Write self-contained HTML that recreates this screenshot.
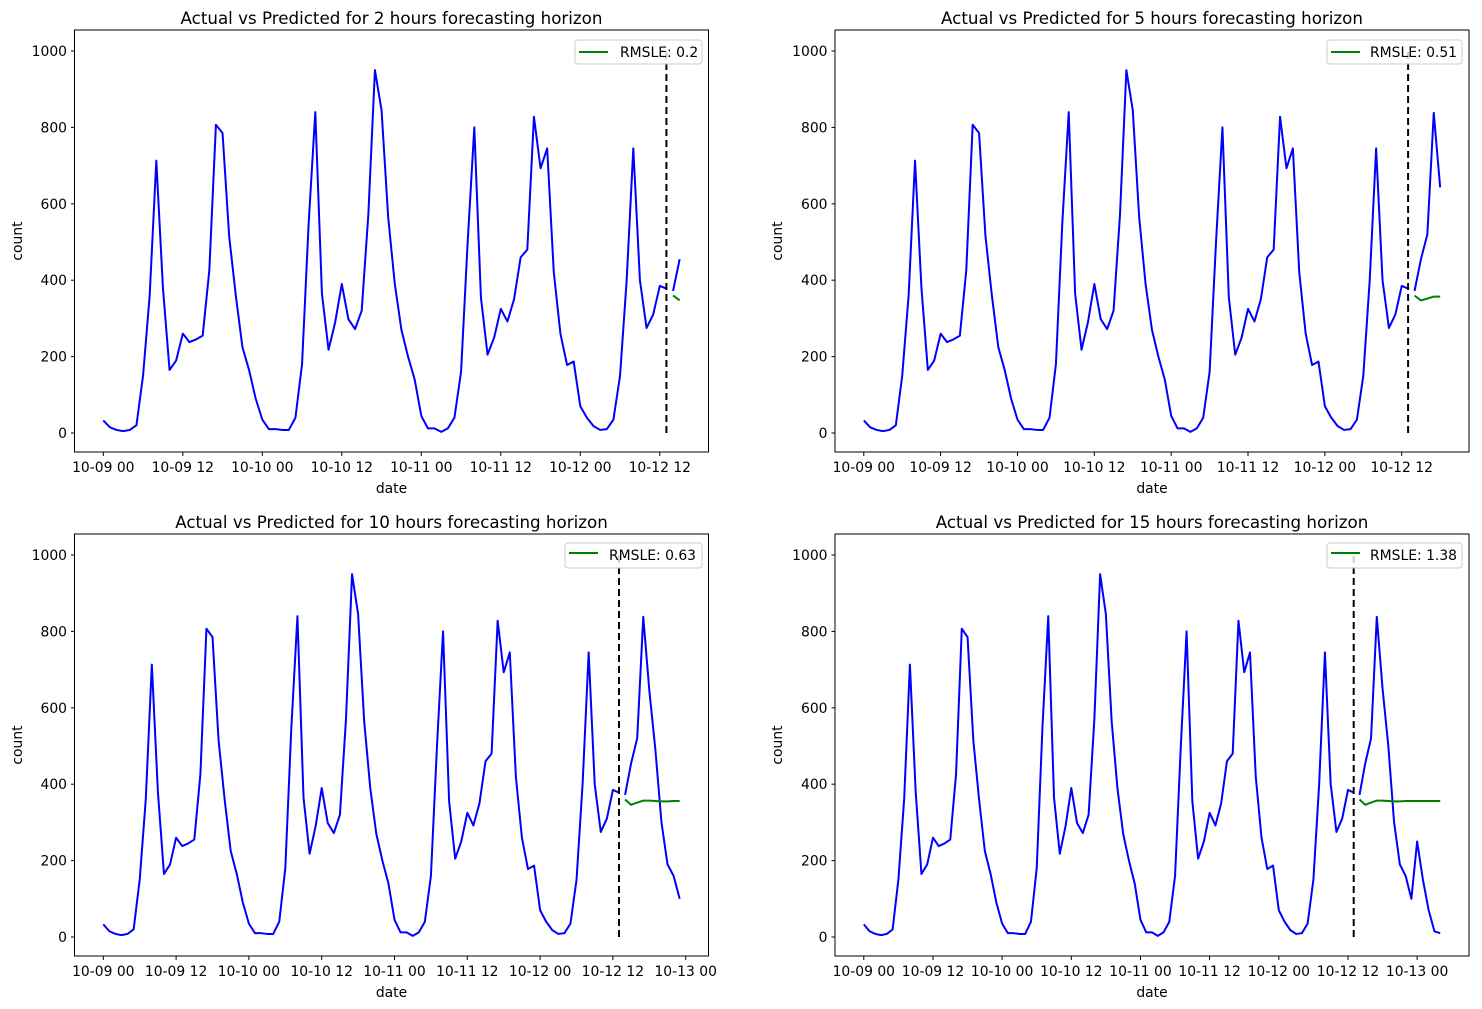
<!DOCTYPE html>
<html><head><meta charset="utf-8"><style>
html,body{margin:0;padding:0;background:#fff;}
svg{display:block;font-family:"DejaVu Sans","Liberation Sans",sans-serif;}
.t{font-size:16.7px;text-anchor:middle;fill:#000}
.tk{font-size:13.9px;fill:#000}
.yl{text-anchor:end}
.xl{text-anchor:middle}
.ln{fill:none;stroke-width:2;vector-effect:non-scaling-stroke;stroke-linejoin:round}
</style></head><body>
<svg width="1482" height="1009" viewBox="0 0 1482 1009" xmlns="http://www.w3.org/2000/svg">
<defs>
<polyline id="tr" class="ln" stroke="#0000ff" points="0,33 1,15 2,8 3,5 4,8 5,20 6,150 7,360 8,713 9,380 10,165 11,190 12,260 13,238 14,245 15,255 16,425 17,807 18,785 19,515 20,360 21,225 22,165 23,90 24,35 25,10 26,10 27,8 28,8 29,40 30,180 31,550 32,840 33,365 34,218 35,290 36,390 37,298 38,272 39,320 40,570 41,950 42,845 43,565 44,390 45,270 46,200 47,140 48,45 49,12 50,12 51,3 52,12 53,40 54,160 55,500 56,800 57,355 58,205 59,250 60,325 61,292 62,350 63,460 64,480 65,828 66,693 67,745 68,420 69,260 70,178 71,187 72,70 73,40 74,18 75,8 76,10 77,35 78,150 79,400 80,745 81,400 82,275 83,310 84,385 85,378"/>
</defs>

<!-- Panel TL -->
<rect x="74.5" y="30" width="634" height="422" fill="none" stroke="#000" stroke-width="1"/>
<text class="t" x="391.5" y="24">Actual vs Predicted for 2 hours forecasting horizon</text>
<g transform="matrix(6.625,0,0,-0.382,103.3,433)">
<use href="#tr"/>
<polyline class="ln" stroke="#0000ff" points="86,372 87,455"/>
<polyline class="ln" stroke="#008000" points="86,360 87,347"/>
</g>
<line x1="666.4" y1="433" x2="666.4" y2="51" stroke="#000" stroke-width="2" stroke-dasharray="7,4"/>
<g stroke="#000">
<line x1="71" x2="74.5" y1="433" y2="433"/><line x1="71" x2="74.5" y1="356.6" y2="356.6"/><line x1="71" x2="74.5" y1="280.2" y2="280.2"/><line x1="71" x2="74.5" y1="203.8" y2="203.8"/><line x1="71" x2="74.5" y1="127.4" y2="127.4"/><line x1="71" x2="74.5" y1="51" y2="51"/>
</g>
<g class="tk yl"><text x="67" y="438">0</text><text x="67" y="361.6">200</text><text x="67" y="285.2">400</text><text x="67" y="208.8">600</text><text x="67" y="132.4">800</text><text x="67" y="56">1000</text></g>
<g stroke="#000"><line x1="103.3" x2="103.3" y1="452" y2="456"/><line x1="182.8" x2="182.8" y1="452" y2="456"/><line x1="262.3" x2="262.3" y1="452" y2="456"/><line x1="341.8" x2="341.8" y1="452" y2="456"/><line x1="421.3" x2="421.3" y1="452" y2="456"/><line x1="500.8" x2="500.8" y1="452" y2="456"/><line x1="580.3" x2="580.3" y1="452" y2="456"/><line x1="659.8" x2="659.8" y1="452" y2="456"/></g>
<g class="tk xl"><text x="103.3" y="472">10-09 00</text><text x="182.8" y="472">10-09 12</text><text x="262.3" y="472">10-10 00</text><text x="341.8" y="472">10-10 12</text><text x="421.3" y="472">10-11 00</text><text x="500.8" y="472">10-11 12</text><text x="580.3" y="472">10-12 00</text><text x="659.8" y="472">10-12 12</text></g>
<text class="tk xl" x="391.5" y="493">date</text>
<text class="tk xl" transform="translate(22,241) rotate(-90)">count</text>
<rect x="575" y="40" width="127" height="24" rx="3" fill="#fff" fill-opacity="0.8" stroke="#ccc"/>
<line x1="579" x2="608" y1="52" y2="52" stroke="#008000" stroke-width="2"/>
<text class="tk" x="620" y="57">RMSLE: 0.2</text>

<!-- Panel TR -->
<rect x="835" y="30" width="634" height="422" fill="none" stroke="#000" stroke-width="1"/>
<text class="t" x="1152" y="24">Actual vs Predicted for 5 hours forecasting horizon</text>
<g transform="matrix(6.404,0,0,-0.382,863.8,433)">
<use href="#tr"/>
<polyline class="ln" stroke="#0000ff" points="86,372 87,455 88,520 89,838 90,643"/>
<polyline class="ln" stroke="#008000" points="86,360 87,347 88,352 89,357 90,357"/>
</g>
<line x1="1408.1" y1="433" x2="1408.1" y2="51" stroke="#000" stroke-width="2" stroke-dasharray="7,4"/>
<g stroke="#000">
<line x1="831.5" x2="835" y1="433" y2="433"/><line x1="831.5" x2="835" y1="356.6" y2="356.6"/><line x1="831.5" x2="835" y1="280.2" y2="280.2"/><line x1="831.5" x2="835" y1="203.8" y2="203.8"/><line x1="831.5" x2="835" y1="127.4" y2="127.4"/><line x1="831.5" x2="835" y1="51" y2="51"/>
</g>
<g class="tk yl"><text x="827.5" y="438">0</text><text x="827.5" y="361.6">200</text><text x="827.5" y="285.2">400</text><text x="827.5" y="208.8">600</text><text x="827.5" y="132.4">800</text><text x="827.5" y="56">1000</text></g>
<g stroke="#000"><line x1="863.8" x2="863.8" y1="452" y2="456"/><line x1="940.6" x2="940.6" y1="452" y2="456"/><line x1="1017.5" x2="1017.5" y1="452" y2="456"/><line x1="1094.3" x2="1094.3" y1="452" y2="456"/><line x1="1171.2" x2="1171.2" y1="452" y2="456"/><line x1="1248" x2="1248" y1="452" y2="456"/><line x1="1324.9" x2="1324.9" y1="452" y2="456"/><line x1="1401.7" x2="1401.7" y1="452" y2="456"/></g>
<g class="tk xl"><text x="863.8" y="472">10-09 00</text><text x="940.6" y="472">10-09 12</text><text x="1017.5" y="472">10-10 00</text><text x="1094.3" y="472">10-10 12</text><text x="1171.2" y="472">10-11 00</text><text x="1248" y="472">10-11 12</text><text x="1324.9" y="472">10-12 00</text><text x="1401.7" y="472">10-12 12</text></g>
<text class="tk xl" x="1152" y="493">date</text>
<text class="tk xl" transform="translate(782,241) rotate(-90)">count</text>
<rect x="1327" y="40" width="135" height="24" rx="3" fill="#fff" fill-opacity="0.8" stroke="#ccc"/>
<line x1="1331" x2="1360" y1="52" y2="52" stroke="#008000" stroke-width="2"/>
<text class="tk" x="1370" y="57">RMSLE: 0.51</text>

<!-- Panel BL -->
<rect x="74.5" y="534" width="634" height="422" fill="none" stroke="#000" stroke-width="1"/>
<text class="t" x="391.5" y="528">Actual vs Predicted for 10 hours forecasting horizon</text>
<g transform="matrix(6.067,0,0,-0.382,103.3,937)">
<use href="#tr"/>
<polyline class="ln" stroke="#0000ff" points="86,372 87,455 88,520 89,838 90,645 91,490 92,300 93,190 94,160 95,100"/>
<polyline class="ln" stroke="#008000" points="86,360 87,346 88,352 89,357 90,357 91,356 92,355 93,355 94,356 95,356"/>
</g>
<line x1="619" y1="937" x2="619" y2="555" stroke="#000" stroke-width="2" stroke-dasharray="7,4"/>
<g stroke="#000">
<line x1="71" x2="74.5" y1="937" y2="937"/><line x1="71" x2="74.5" y1="860.6" y2="860.6"/><line x1="71" x2="74.5" y1="784.2" y2="784.2"/><line x1="71" x2="74.5" y1="707.8" y2="707.8"/><line x1="71" x2="74.5" y1="631.4" y2="631.4"/><line x1="71" x2="74.5" y1="555" y2="555"/>
</g>
<g class="tk yl"><text x="67" y="942">0</text><text x="67" y="865.6">200</text><text x="67" y="789.2">400</text><text x="67" y="712.8">600</text><text x="67" y="636.4">800</text><text x="67" y="560">1000</text></g>
<g stroke="#000"><line x1="103.3" x2="103.3" y1="956" y2="960"/><line x1="176.1" x2="176.1" y1="956" y2="960"/><line x1="248.9" x2="248.9" y1="956" y2="960"/><line x1="321.7" x2="321.7" y1="956" y2="960"/><line x1="394.5" x2="394.5" y1="956" y2="960"/><line x1="467.3" x2="467.3" y1="956" y2="960"/><line x1="540.1" x2="540.1" y1="956" y2="960"/><line x1="612.9" x2="612.9" y1="956" y2="960"/><line x1="685.7" x2="685.7" y1="956" y2="960"/></g>
<g class="tk xl"><text x="103.3" y="976">10-09 00</text><text x="176.1" y="976">10-09 12</text><text x="248.9" y="976">10-10 00</text><text x="321.7" y="976">10-10 12</text><text x="394.5" y="976">10-11 00</text><text x="467.3" y="976">10-11 12</text><text x="540.1" y="976">10-12 00</text><text x="612.9" y="976">10-12 12</text><text x="685.7" y="976">10-13 00</text></g>
<text class="tk xl" x="391.5" y="997">date</text>
<text class="tk xl" transform="translate(22,745) rotate(-90)">count</text>
<rect x="565" y="543" width="137" height="25" rx="3" fill="#fff" fill-opacity="0.8" stroke="#ccc"/>
<line x1="569" x2="598" y1="553" y2="553" stroke="#008000" stroke-width="2"/>
<text class="tk" x="609" y="560">RMSLE: 0.63</text>

<!-- Panel BR -->
<rect x="835" y="534" width="634" height="422" fill="none" stroke="#000" stroke-width="1"/>
<text class="t" x="1152" y="528">Actual vs Predicted for 15 hours forecasting horizon</text>
<g transform="matrix(5.764,0,0,-0.382,863.8,937)">
<use href="#tr"/>
<polyline class="ln" stroke="#0000ff" points="86,372 87,455 88,520 89,838 90,650 91,500 92,300 93,190 94,160 95,100 96,250 97,150 98,70 99,15 100,10"/>
<polyline class="ln" stroke="#008000" points="86,360 87,346 88,352 89,357 90,357 91,356 92,355 93,355 94,356 95,356 96,356 97,356 98,356 99,356 100,356"/>
</g>
<line x1="1353.7" y1="937" x2="1353.7" y2="555" stroke="#000" stroke-width="2" stroke-dasharray="7,4"/>
<g stroke="#000">
<line x1="831.5" x2="835" y1="937" y2="937"/><line x1="831.5" x2="835" y1="860.6" y2="860.6"/><line x1="831.5" x2="835" y1="784.2" y2="784.2"/><line x1="831.5" x2="835" y1="707.8" y2="707.8"/><line x1="831.5" x2="835" y1="631.4" y2="631.4"/><line x1="831.5" x2="835" y1="555" y2="555"/>
</g>
<g class="tk yl"><text x="827.5" y="942">0</text><text x="827.5" y="865.6">200</text><text x="827.5" y="789.2">400</text><text x="827.5" y="712.8">600</text><text x="827.5" y="636.4">800</text><text x="827.5" y="560">1000</text></g>
<g stroke="#000"><line x1="863.8" x2="863.8" y1="956" y2="960"/><line x1="933" x2="933" y1="956" y2="960"/><line x1="1002.1" x2="1002.1" y1="956" y2="960"/><line x1="1071.3" x2="1071.3" y1="956" y2="960"/><line x1="1140.5" x2="1140.5" y1="956" y2="960"/><line x1="1209.6" x2="1209.6" y1="956" y2="960"/><line x1="1278.8" x2="1278.8" y1="956" y2="960"/><line x1="1348" x2="1348" y1="956" y2="960"/><line x1="1417.1" x2="1417.1" y1="956" y2="960"/></g>
<g class="tk xl"><text x="863.8" y="976">10-09 00</text><text x="933" y="976">10-09 12</text><text x="1002.1" y="976">10-10 00</text><text x="1071.3" y="976">10-10 12</text><text x="1140.5" y="976">10-11 00</text><text x="1209.6" y="976">10-11 12</text><text x="1278.8" y="976">10-12 00</text><text x="1348" y="976">10-12 12</text><text x="1417.1" y="976">10-13 00</text></g>
<text class="tk xl" x="1152" y="997">date</text>
<text class="tk xl" transform="translate(782,745) rotate(-90)">count</text>
<rect x="1327" y="543" width="135" height="25" rx="3" fill="#fff" fill-opacity="0.8" stroke="#ccc"/>
<line x1="1331" x2="1360" y1="553" y2="553" stroke="#008000" stroke-width="2"/>
<text class="tk" x="1370" y="560">RMSLE: 1.38</text>
</svg>
</body></html>
